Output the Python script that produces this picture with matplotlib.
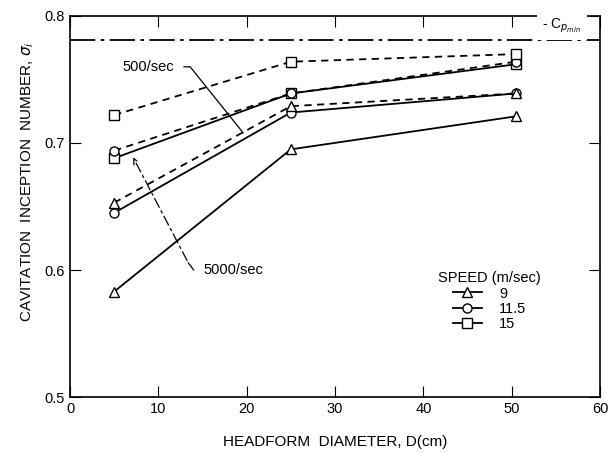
import matplotlib
matplotlib.use("Agg")
import matplotlib.pyplot as plt

plt.rcParams['font.family'] = ['Liberation Sans', 'DejaVu Sans']

# headform diameters (cm)
diam = [5, 25, 50.5]

# solid lines (5000/sec)
sol_9 = [0.583, 0.695, 0.721]
sol_115 = [0.645, 0.724, 0.739]
sol_15 = [0.688, 0.739, 0.762]

# dashed lines (500/sec)
dash_9 = [0.653, 0.729, 0.739]
dash_115 = [0.694, 0.739, 0.764]
dash_15 = [0.722, 0.764, 0.770]

cp_min = 0.781
speeds = ["9", "11.5", "15"]
markers = ["^", "o", "s"]

fig = plt.figure(figsize=(6.1, 4.53), dpi=100)
ax = fig.add_axes([0.1148, 0.1236, 0.8688, 0.8411])

mk = dict(color="black", markerfacecolor="white", markeredgecolor="black",
          markersize=6.5, markeredgewidth=1.0, lw=1.3)
for ys, m in zip([sol_9, sol_115, sol_15], markers):
    ax.plot(diam, ys, marker=m, ls="-", **mk)
for ys, m in zip([dash_9, dash_115, dash_15], markers):
    ax.plot(diam, ys, marker=m, ls=(0, (4, 3)), **mk)

# C_p min line
ax.axhline(cp_min, color="black", lw=1.3, ls=(0, (14, 3, 2, 3)))
ax.text(55.7, 0.7925, r"- C$_{p_{min}}$", fontsize=10, ha="center", va="center",
        bbox=dict(facecolor="white", edgecolor="none", pad=4), clip_on=False, zorder=5)

# annotations
ax.text(5.9, 0.760, "500/sec", fontsize=10.5, va="center")
ax.plot([12.9, 13.6, 19.6], [0.760, 0.760, 0.708], color="black", lw=0.9)
ax.text(15.1, 0.600, "5000/sec", fontsize=10.5, va="center")
ax.plot([14.0, 13.4], [0.600, 0.6055], color="black", lw=0.9)
ax.annotate("", xy=(7.0, 0.6906), xytext=(13.4, 0.6055),
            arrowprops=dict(arrowstyle="->", color="black", lw=0.9, ls=(0, (8, 3, 2, 3))))

# legend
handles = [plt.Line2D([], [], marker=m, ls="-", **mk) for m in markers]
leg = ax.legend(handles, speeds, title="SPEED (m/sec)", loc="upper left",
                bbox_to_anchor=(0.67, 0.365), frameon=False, fontsize=10.5,
                title_fontsize=10.5, handlelength=2.0, handletextpad=1.2,
                labelspacing=0.1)

ax.set_xlim(0, 60)
ax.set_ylim(0.5, 0.8)
ax.set_xticks([0, 10, 20, 30, 40, 50, 60])
ax.set_yticks([0.5, 0.6, 0.7, 0.8])
ax.tick_params(direction="in", length=8, top=True, right=True, labelsize=10.5)
for s in ax.spines.values():
    s.set_linewidth(1.2)

ax.set_xlabel("HEADFORM  DIAMETER, D(cm)", fontsize=11, labelpad=14)
fig.text(0.046, 0.6, r"CAVITATION  INCEPTION  NUMBER, $\sigma_i$", rotation=90,
         fontsize=11, ha="center", va="center")

fig.savefig("out.png", dpi=100)
